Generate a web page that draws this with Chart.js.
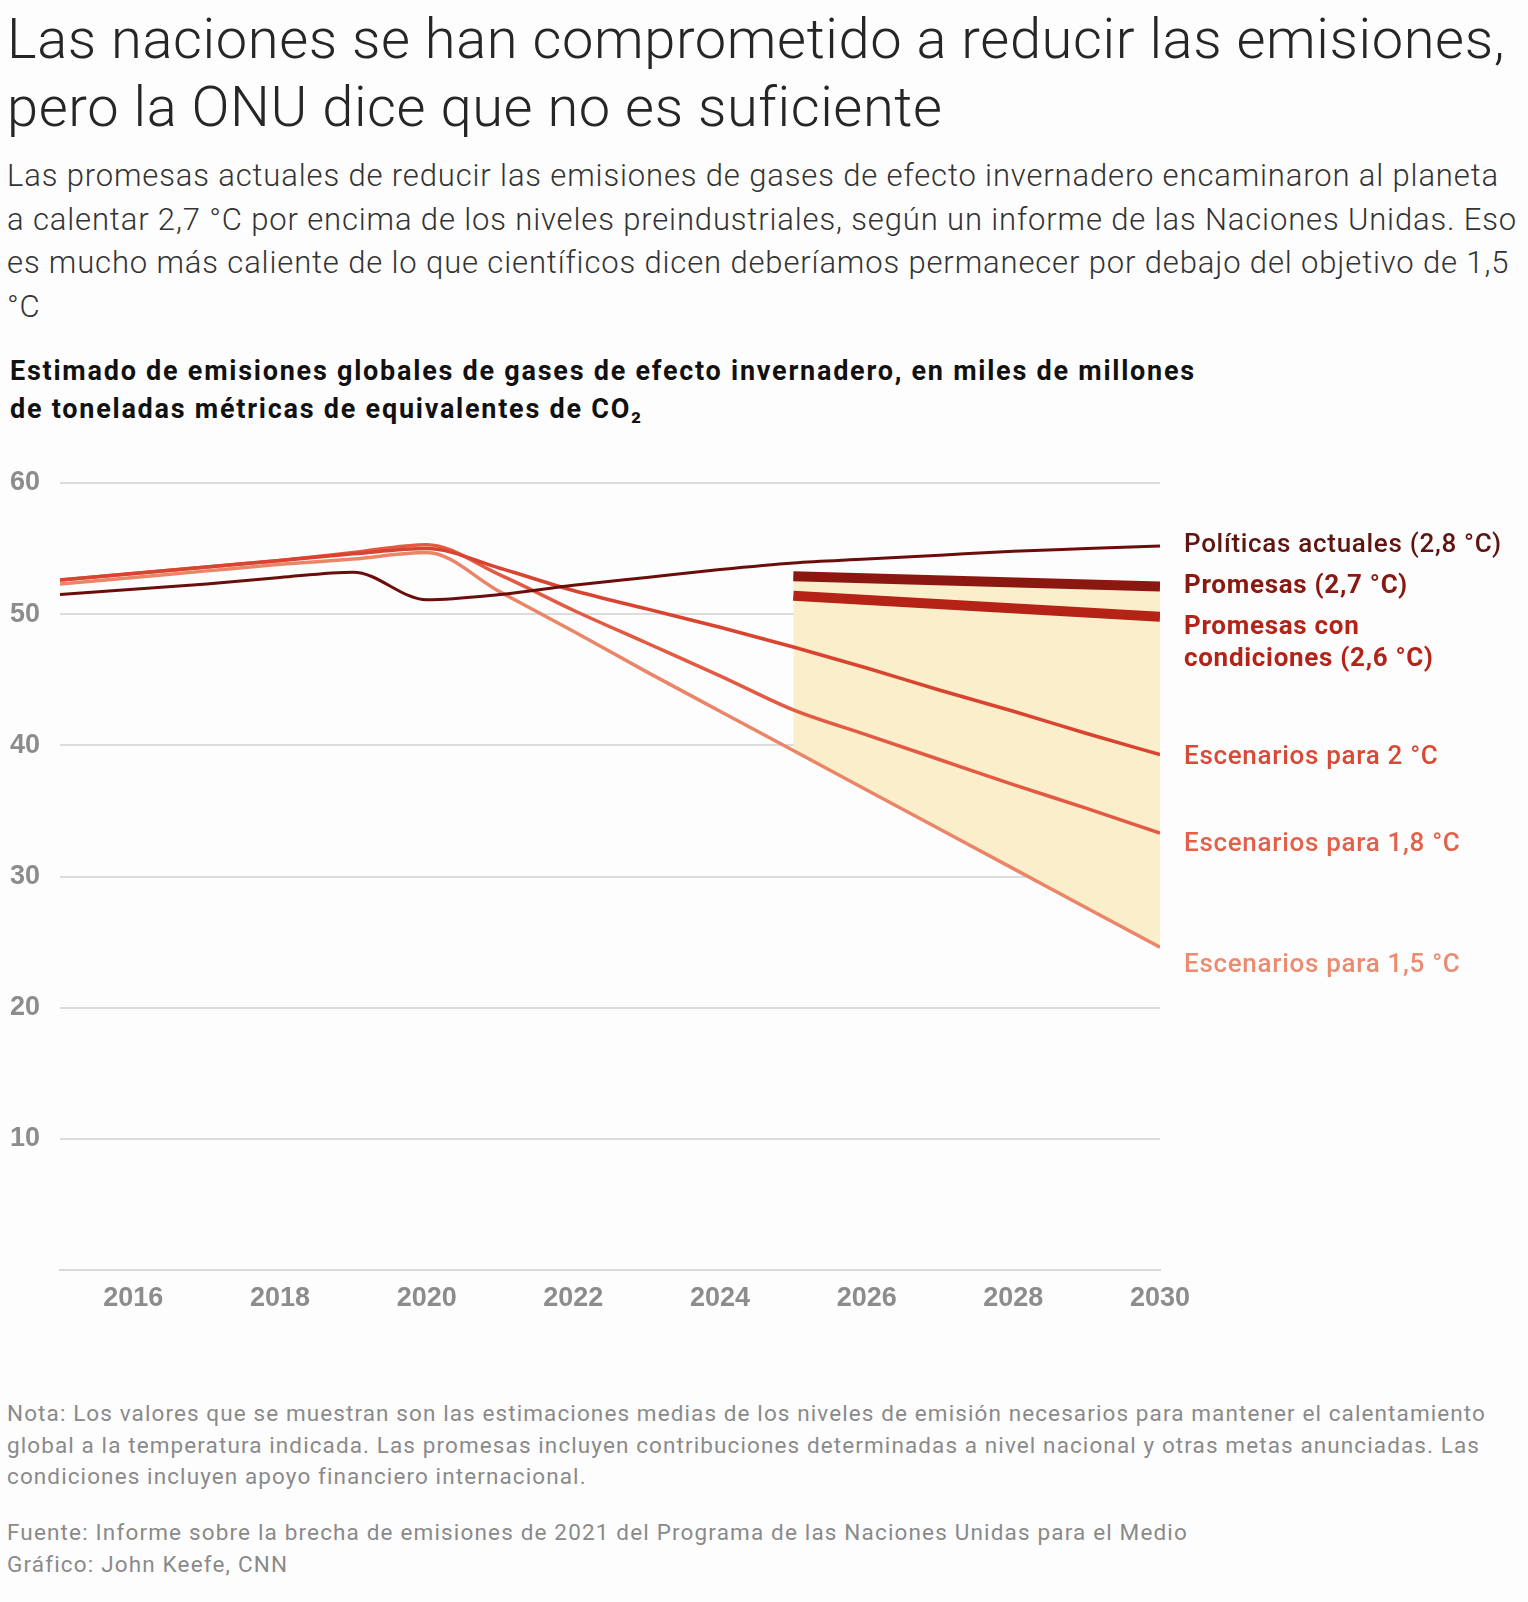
<!DOCTYPE html>
<html lang="es">
<head>
<meta charset="utf-8">
<title>Emisiones globales</title>
<script src="https://cdn.jsdelivr.net/npm/chart.js@4.4.1/dist/chart.umd.min.js"></script>
<style>
  body { margin: 0; background: #fdfdfd; font-family: Roboto, "Liberation Sans", sans-serif; }
  .bloque { position: absolute; left: 7px; margin: 0; white-space: nowrap; }
  #titulo { top: 5px; font-size: 56px; font-weight: 300; line-height: 68px; color: #262626; }
  #subtitulo { top: 154px; font-size: 31px; font-weight: 300; line-height: 43.5px; color: #333; }
  #titulo-grafico { top: 352px; left: 10px; font-size: 27px; font-weight: 700; line-height: 38px; color: #111; }
  #nota { top: 1398px; font-size: 22.5px; line-height: 31.5px; color: #8a8a8a; }
  #fuente { top: 1517px; font-size: 22.5px; line-height: 31.5px; color: #8a8a8a; }
  #grafico { position: absolute; left: 0; top: 440px; }
</style>
</head>
<body>
<h1 class="bloque" id="titulo"><span class="linea" data-ancho="1498">Las naciones se han comprometido a reducir las emisiones,</span><br><span class="linea">pero la ONU dice que no es suficiente</span></h1>
<p class="bloque" id="subtitulo"><span class="linea" data-ancho="1492">Las promesas actuales de reducir las emisiones de gases de efecto invernadero encaminaron al planeta</span><br><span class="linea">a calentar 2,7 °C por encima de los niveles preindustriales, según un informe de las Naciones Unidas. Eso</span><br><span class="linea">es mucho más caliente de lo que científicos dicen deberíamos permanecer por debajo del objetivo de 1,5</span><br><span class="linea">°C</span></p>
<p class="bloque" id="titulo-grafico"><span class="linea" data-ancho="1186">Estimado de emisiones globales de gases de efecto invernadero, en miles de millones</span><br><span class="linea">de toneladas métricas de equivalentes de CO₂</span></p>
<canvas id="grafico" width="1528" height="890"></canvas>
<p class="bloque" id="nota"><span class="linea" data-ancho="1479">Nota: Los valores que se muestran son las estimaciones medias de los niveles de emisión necesarios para mantener el calentamiento</span><br><span class="linea">global a la temperatura indicada. Las promesas incluyen contribuciones determinadas a nivel nacional y otras metas anunciadas. Las</span><br><span class="linea">condiciones incluyen apoyo financiero internacional.</span></p>
<p class="bloque" id="fuente"><span class="linea" data-ancho="1181">Fuente: Informe sobre la brecha de emisiones de 2021 del Programa de las Naciones Unidas para el Medio</span><br><span class="linea">Gráfico: John Keefe, CNN</span></p>

<script>
// Años y valores (miles de millones de toneladas de CO2e)
const anos = [2015, 2016, 2017, 2018, 2019, 2020, 2021, 2022, 2023, 2024, 2025, 2026, 2027, 2028, 2029, 2030];
const politicasActuales = [51.5, 51.9, 52.3, 52.8, 53.2, 51.1, 51.5, 52.2, 52.8, 53.4, 53.9, 54.2, 54.5, 54.8, 55.0, 55.2];
const escenario2 = [52.6, 53.1, 53.6, 54.1, 54.6, 55.0, 53.5, 51.8, 50.4, 49.0, 47.5, 45.9, 44.2, 42.6, 40.9, 39.3];
const escenario18 = [52.6, 53.1, 53.6, 54.1, 54.7, 55.3, 53.0, 50.3, 47.8, 45.3, 42.7, 40.8, 38.9, 37.0, 35.2, 33.3];
const escenario15 = [52.3, 52.8, 53.3, 53.8, 54.2, 54.7, 51.7, 48.7, 45.6, 42.6, 39.6, 36.6, 33.6, 30.6, 27.6, 24.6];

const anosPromesas = [2025, 2030];
const promesas = [52.9, 52.1];
const promesasCondiciones = [51.4, 49.8];

const marcasX = [2016, 2018, 2020, 2022, 2024, 2026, 2028, 2030];
const marcasY = [10, 20, 30, 40, 50, 60];

function puntos(xs, ys) {
    return xs.map((x, i) => ({ x: x, y: ys[i] }));
}

// Ajusta el espaciado de letras de cada bloque para que su primera línea tenga el ancho del original
function ajustarTextos() {
    document.querySelectorAll('.bloque').forEach(bloque => {
        const linea = bloque.querySelector('.linea[data-ancho]');
        bloque.style.letterSpacing = '0px';
        const ancho = linea.getBoundingClientRect().width;
        const extra = (Number(linea.dataset.ancho) - ancho) / linea.textContent.length;
        bloque.style.letterSpacing = extra.toFixed(3) + 'px';
    });
}
ajustarTextos();
document.fonts.ready.then(ajustarTextos);

// Etiquetas a la derecha de cada línea
const etiquetas = [
    { texto: ['Políticas actuales (2,8 °C)'], color: '#5e1410', peso: 500, desplaz: 0 },
    { texto: ['Promesas (2,7 °C)'], color: '#861a12', peso: 700, desplaz: 0 },
    { texto: ['Promesas con', 'condiciones (2,6 °C)'], color: '#b32318', peso: 700, desplaz: 11 },
    { texto: ['Escenarios para 2 °C'], color: '#d84a35', peso: 500, desplaz: 3 },
    { texto: ['Escenarios para 1,8 °C'], color: '#e2614a', peso: 500, desplaz: 11 },
    { texto: ['Escenarios para 1,5 °C'], color: '#eb8c70', peso: 500, desplaz: 18 }
];

const pluginEtiquetas = {
    id: 'etiquetasLineas',
    afterDatasetsDraw(chart) {
        const ctx = chart.ctx;
        const y = chart.scales.y;
        const x0 = chart.chartArea.right + 24;
        ctx.save();
        ctx.textAlign = 'left';
        ctx.textBaseline = 'middle';
        ctx.letterSpacing = '0.7px';
        chart.data.datasets.forEach((ds, i) => {
            const et = etiquetas[i];
            const ultimo = ds.data[ds.data.length - 1].y;
            const py = y.getPixelForValue(ultimo) + et.desplaz;
            ctx.font = et.peso + ' 26px Roboto, "Liberation Sans", sans-serif';
            ctx.fillStyle = et.color;
            et.texto.forEach((linea, j) => ctx.fillText(linea, x0, py + j * 32));
        });
        ctx.restore();
    }
};

const ctx = document.getElementById('grafico').getContext('2d');

new Chart(ctx, {
    type: 'line',
    data: {
        datasets: [
            {
                label: 'Políticas actuales',
                data: puntos(anos, politicasActuales),
                borderColor: '#6b0d0a',
                borderWidth: 3,
                cubicInterpolationMode: 'monotone'
            },
            {
                label: 'Promesas',
                data: puntos(anosPromesas, promesas),
                borderColor: '#8a1811',
                borderWidth: 10,
                borderCapStyle: 'butt',
                fill: 5,
                backgroundColor: '#fbeecb'
            },
            {
                label: 'Promesas con condiciones',
                data: puntos(anosPromesas, promesasCondiciones),
                borderColor: '#b52216',
                borderWidth: 10,
                borderCapStyle: 'butt'
            },
            {
                label: 'Escenarios para 2 °C',
                data: puntos(anos, escenario2),
                borderColor: '#d94430',
                borderWidth: 3.5,
                cubicInterpolationMode: 'monotone'
            },
            {
                label: 'Escenarios para 1,8 °C',
                data: puntos(anos, escenario18),
                borderColor: '#e25a43',
                borderWidth: 3.5,
                cubicInterpolationMode: 'monotone'
            },
            {
                label: 'Escenarios para 1,5 °C',
                data: puntos(anos, escenario15),
                borderColor: '#ea8568',
                borderWidth: 3.5,
                cubicInterpolationMode: 'monotone'
            }
        ]
    },
    options: {
        responsive: false,
        animation: false,
        devicePixelRatio: 1,
        layout: { padding: { left: 10, right: 368, top: 43, bottom: 0 } },
        elements: { point: { radius: 0 } },
        plugins: {
            legend: { display: false },
            tooltip: { enabled: false },
            filler: { drawTime: 'beforeDatasetsDraw' }
        },
        scales: {
            x: {
                type: 'linear',
                min: 2015,
                max: 2030,
                afterBuildTicks: eje => { eje.ticks = marcasX.map(v => ({ value: v })); },
                afterFit: eje => { eje.height = 60; },
                grid: { display: false, drawTicks: false },
                border: { display: true, color: '#d9d9d9', width: 2 },
                ticks: {
                    padding: 12,
                    color: '#8c8c8c',
                    font: { size: 27, weight: 700 },
                    maxRotation: 0,
                    callback: v => String(v)
                }
            },
            y: {
                min: 0,
                max: 60,
                afterBuildTicks: eje => { eje.ticks = marcasY.map(v => ({ value: v })); },
                afterFit: eje => { eje.width = 50; },
                grid: { color: '#dcdcdc', lineWidth: 2, drawTicks: false },
                border: { display: false },
                ticks: {
                    crossAlign: 'far',
                    color: '#8c8c8c',
                    font: { size: 27, weight: 700 },
                    callback: v => String(v)
                }
            }
        }
    },
    plugins: [pluginEtiquetas]
});
</script>
</body>
</html>
